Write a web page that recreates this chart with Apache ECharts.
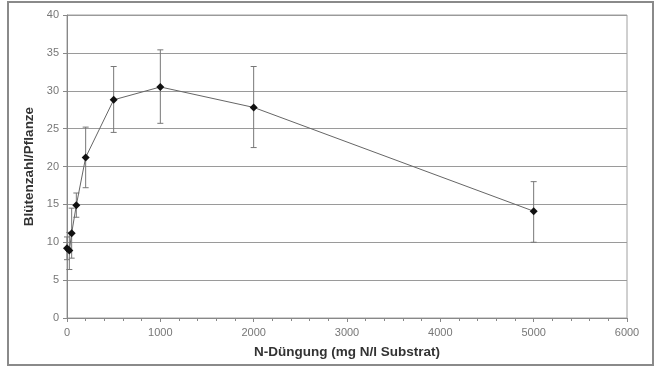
<!DOCTYPE html>
<html>
<head>
<meta charset="utf-8">
<script src="https://cdn.jsdelivr.net/npm/echarts@6/dist/echarts.min.js"></script>
<style>
  html, body { margin: 0; padding: 0; background: #fff; }
  #chart { width: 657px; height: 367px; }
</style>
</head>
<body>
<div id="chart"></div>
<script>
// N-Düngung (mg N/l Substrat)
var dose = [0, 25, 50, 100, 200, 500, 1000, 2000, 5000];
// Blütenzahl/Pflanze (Mittelwert)
var flowers = [9.2, 8.9, 11.2, 14.9, 21.2, 28.8, 30.5, 27.8, 14.1];
// Fehlerbalken unten / oben
var errLow = [7.7, 6.4, 7.9, 13.3, 17.2, 24.5, 25.7, 22.5, 10.0];
var errHigh = [10.7, 11.3, 14.5, 16.5, 25.2, 33.2, 35.4, 33.2, 18.0];

var xTicks = [0, 1000, 2000, 3000, 4000, 5000, 6000];
var yTicks = [0, 5, 10, 15, 20, 25, 30, 35, 40];

viewChart();

function viewChart() {
	var myChart = echarts.init(document.getElementById('chart'));

	var points = dose.map(function (d, i) { return [d, flowers[i]]; });
	var bars = dose.map(function (d, i) { return [d, errLow[i], errHigh[i]]; });

	var option = {
		animation: false,
		backgroundColor: '#fff',
		textStyle: { fontFamily: 'Liberation Sans, Arial, sans-serif' },
		graphic: [{
			type: 'rect',
			shape: { x: 8, y: 2, width: 645, height: 363 },
			style: { fill: 'none', stroke: '#8a8a8a', lineWidth: 2 },
			silent: true
		}],
		grid: { left: 67, right: 30, top: 15, bottom: 49, show: true, borderColor: '#a0a0a0', borderWidth: 1 },
		xAxis: {
			type: 'value',
			min: xTicks[0],
			max: xTicks[xTicks.length - 1],
			interval: 1000,
			name: 'N-Düngung (mg N/l Substrat)',
			nameLocation: 'middle',
			nameGap: 27,
			nameTextStyle: { fontSize: 13.5, fontWeight: 'bold', color: '#333' },
			axisLine: { lineStyle: { color: '#888' } },
			axisTick: { length: 4, lineStyle: { color: '#888' } },
			minorTick: { show: true, splitNumber: 5, length: 3, lineStyle: { color: '#888' } },
			axisLabel: { color: '#777', fontSize: 11, margin: 9, formatter: function (v) { return String(v); } },
			splitLine: { show: false }
		},
		yAxis: {
			type: 'value',
			min: yTicks[0],
			max: yTicks[yTicks.length - 1],
			interval: 5,
			name: 'Blütenzahl/Pflanze',
			nameLocation: 'middle',
			nameGap: 24,
			nameTextStyle: { fontSize: 13.5, fontWeight: 'bold', color: '#333' },
			axisLine: { show: true, lineStyle: { color: '#888' } },
			axisTick: { show: true, length: 4, lineStyle: { color: '#888' } },
			axisLabel: { color: '#777', fontSize: 11, margin: 8 },
			splitLine: { lineStyle: { color: '#9a9a9a', width: 1 } }
		},
		series: [{
			type: 'custom',
			name: 'Fehler',
			z: 2,
			renderItem: function (params, api) {
				var x = api.value(0);
				var lo = api.coord([x, api.value(1)]);
				var hi = api.coord([x, api.value(2)]);
				var w = 3;
				var st = { stroke: '#777', lineWidth: 1 };
				return {
					type: 'group',
					children: [
						{ type: 'line', shape: { x1: lo[0], y1: lo[1], x2: hi[0], y2: hi[1] }, style: st },
						{ type: 'line', shape: { x1: lo[0] - w, y1: lo[1], x2: lo[0] + w, y2: lo[1] }, style: st },
						{ type: 'line', shape: { x1: hi[0] - w, y1: hi[1], x2: hi[0] + w, y2: hi[1] }, style: st }
					]
				};
			},
			encode: { x: 0, y: [1, 2] },
			data: bars
		}, {
			type: 'line',
			name: 'Blütenzahl',
			z: 3,
			data: points,
			symbol: 'diamond',
			symbolSize: 8,
			itemStyle: { color: '#111' },
			lineStyle: { color: '#666', width: 1 }
		}]
	};
	myChart.setOption(option);
}
</script>
</body>
</html>
